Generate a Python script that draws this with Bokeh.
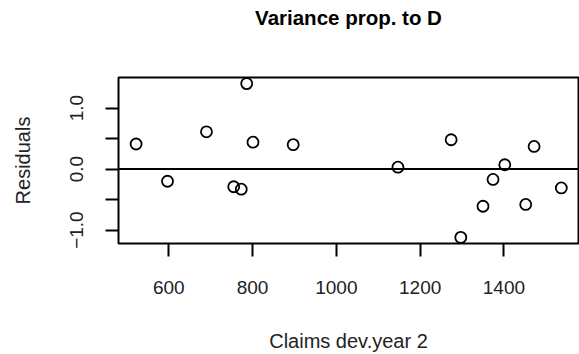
from bokeh.plotting import figure
from bokeh.models import FixedTicker, Span, Title
from bokeh.embed import file_html
from bokeh.resources import INLINE

# Claims in development year 2 against the standardised residuals
claims_dev2 = [522, 597, 690, 786, 801, 755, 773, 897, 1147,
               1274, 1402, 1472, 1374, 1350, 1452, 1537, 1297]
residuals = [0.41, -0.20, 0.61, 1.40, 0.44, -0.29, -0.33, 0.40, 0.03,
             0.48, 0.07, 0.37, -0.17, -0.61, -0.58, -0.31, -1.12]

x_ticks = [600, 800, 1000, 1200, 1400]
y_ticks = [-1.0, -0.5, 0.0, 0.5, 1.0]
y_tick_labels = {-1.0: "\u22121.0", -0.5: "", 0.0: "0.0", 0.5: "", 1.0: "1.0"}

FONT = "Liberation Sans"

p = figure(width=579, height=354, output_backend="svg", toolbar_location=None,
           x_range=(480, 1578), y_range=(-1.22, 1.50),
           min_border_left=118, min_border_right=1,
           min_border_top=77, min_border_bottom=111)

# blank band between the plot box and the main title
spacer = Title(text=" ", text_font_size="2px", standoff=45)
p.add_layout(spacer, "above")

main_title = Title(text="Variance prop. to D", align="center", standoff=0,
                   text_font=FONT, text_font_size="20.5px",
                   text_font_style="bold", text_color="black")
p.add_layout(main_title, "above")

p.grid.visible = False
p.background_fill_color = "white"
p.border_fill_color = "white"
p.outline_line_color = "black"
p.outline_line_width = 2
p.outline_line_alpha = 1

for ax in (p.xaxis[0], p.yaxis[0]):
    ax.axis_line_color = None
    ax.major_tick_in = 0
    ax.major_tick_out = 13
    ax.major_tick_line_width = 2
    ax.major_tick_line_color = "black"
    ax.minor_tick_line_color = None
    ax.major_label_text_font = FONT
    ax.major_label_text_font_size = "19px"
    ax.major_label_text_color = "#222222"
    ax.axis_label_text_font = FONT
    ax.axis_label_text_font_size = "20px"
    ax.axis_label_text_font_style = "normal"
    ax.axis_label_text_color = "#222222"

p.xaxis.ticker = FixedTicker(ticks=x_ticks)
p.xaxis.axis_label = "Claims dev.year 2"
p.xaxis.major_label_standoff = 24
p.xaxis.axis_label_standoff = 33

p.yaxis.ticker = FixedTicker(ticks=y_ticks)
p.yaxis.major_label_overrides = y_tick_labels
p.yaxis.major_label_orientation = "vertical"
p.yaxis.axis_label = "Residuals"
p.yaxis.major_label_standoff = 22
p.yaxis.axis_label_standoff = 34

p.add_layout(Span(location=0, dimension="width", line_color="black", line_width=2))

p.scatter(claims_dev2, residuals, size=11, fill_color=None,
          line_color="black", line_width=1.8)

open("out.html", "w").write(file_html(p, INLINE))
